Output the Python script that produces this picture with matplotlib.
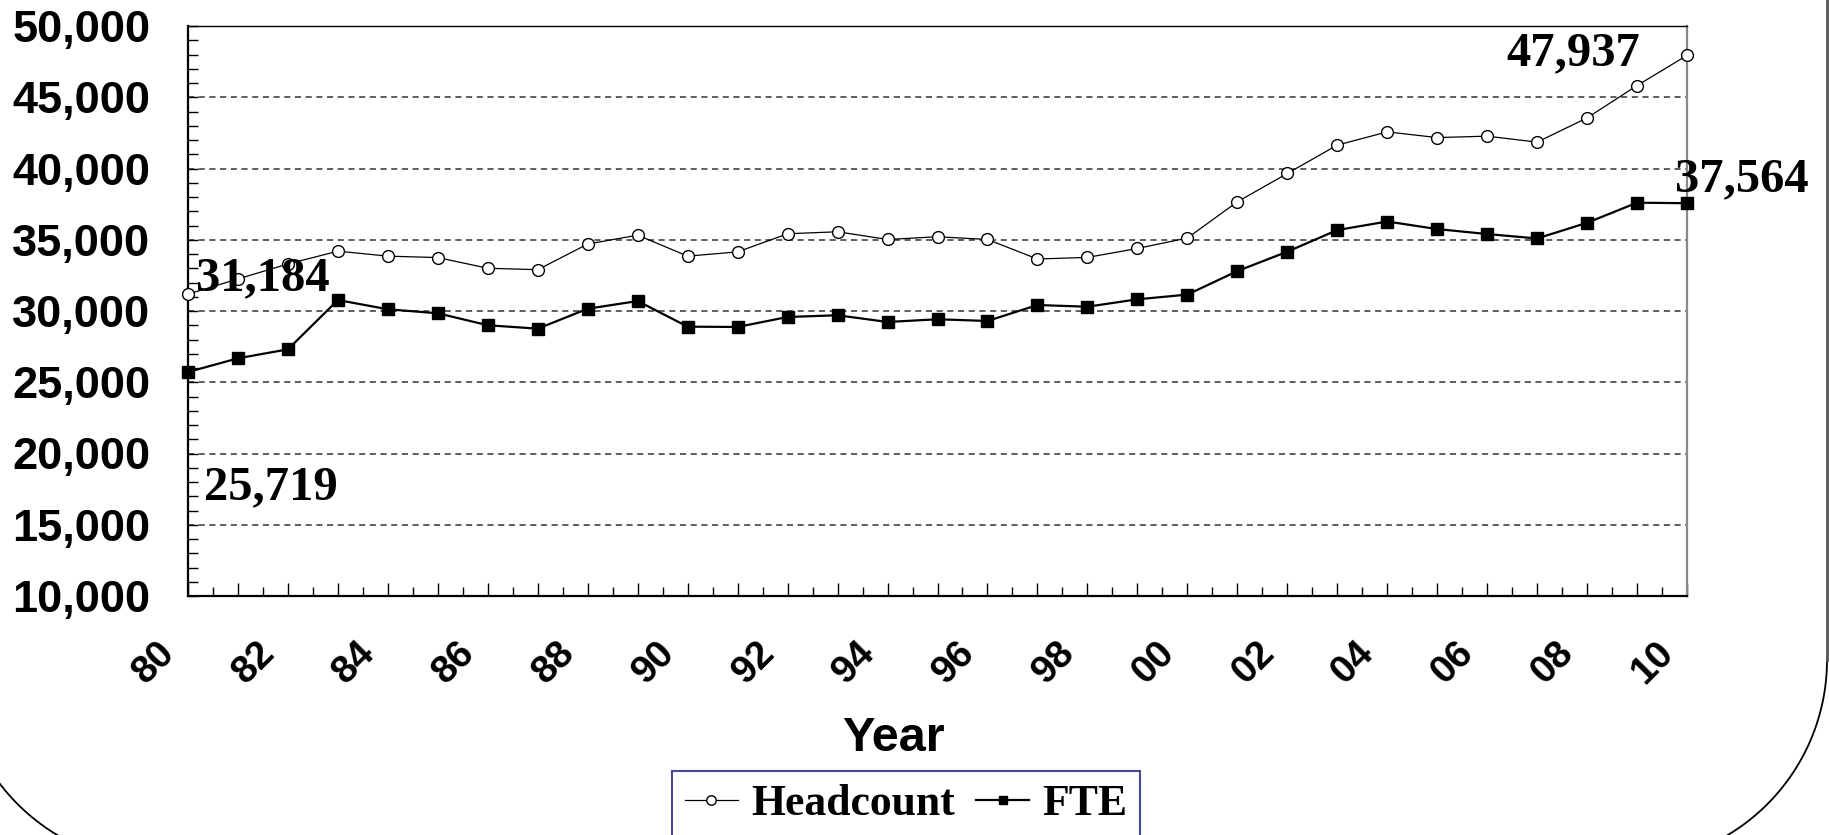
import numpy as np
import matplotlib
matplotlib.use("Agg")
import matplotlib.pyplot as plt
from matplotlib.lines import Line2D
from matplotlib.transforms import ScaledTranslation

# staff numbers by year
years = list(range(1980, 2011))
headcount = [31184, 32250, 33300, 34200, 33850, 33750, 33000, 32900, 34700, 35320,
             33850, 34150, 35420, 35560, 35020, 35210, 35020, 33650, 33760, 34390,
             35120, 37660, 39650, 41640, 42570, 42170, 42270, 41850, 43550, 45820,
             47937]
fte = [25719, 26680, 27310, 30770, 30120, 29840, 29000, 28760, 30160, 30700,
       28900, 28880, 29580, 29700, 29230, 29420, 29300, 30420, 30300, 30820,
       31150, 32800, 34160, 35680, 36280, 35750, 35400, 35090, 36190, 37600,
       37564]
tick_labels = ["%02d" % (y % 100) if y % 2 == 0 else "" for y in years]

W, H = 1829, 835
fig = plt.figure(figsize=(W / 100, H / 100), dpi=100)
ax = fig.add_axes([188 / W, 1 - 596 / H, (1687 - 188) / W, (596 - 26) / H])

sans = "Liberation Sans"
serif = "Liberation Serif"

ax.plot(years, headcount, color="black", lw=0.9, marker="o", ms=8.5,
        mfc="white", mec="black", mew=1.0, clip_on=False, label="Headcount", zorder=3)
ax.plot(years, fte, color="black", lw=1.6, marker="s", ms=8,
        mfc="black", mec="black", clip_on=False, label="FTE", zorder=3)

ax.set_xlim(1980, 2010)
ax.set_ylim(10000, 50000)

ax.set_yticks(range(10000, 50001, 5000))
ax.set_yticklabels(["{:,}".format(v) for v in range(10000, 50001, 5000)],
                   fontfamily=sans, fontweight="bold", fontsize=32.5)
ax.set_yticks(range(10000, 50001, 1000), minor=True)
ax.tick_params(axis="y", which="both", direction="in", length=7, width=1, pad=27)

ax.set_xticks(years)
ax.set_xticklabels(tick_labels, fontfamily=sans, fontweight="bold", fontsize=28,
                   rotation=45, ha="right", va="top")
ax.set_xticks(np.arange(1980.5, 2010, 1.0), minor=True)
ax.tick_params(axis="x", which="major", direction="in", length=9.5, width=1, pad=28)
ax.tick_params(axis="x", which="minor", direction="in", length=6.5, width=1)
shift = ScaledTranslation(-6 / 100, 0, fig.dpi_scale_trans)
for lab in ax.get_xticklabels():
    lab.set_transform(lab.get_transform() + shift)

ax.grid(axis="y", which="major", color="#333333", ls=(0, (4, 3)), lw=1.1)
for s in ["left", "bottom"]:
    ax.spines[s].set_linewidth(1.6)
ax.spines["top"].set_linewidth(1.0)
ax.spines["right"].set_color("#888888")
ax.spines["right"].set_linewidth(1.6)

# end point labels
lab_kw = dict(textcoords="offset pixels", fontfamily=serif, fontweight="bold",
              fontsize=35, va="baseline", annotation_clip=False, zorder=4)
ax.annotate("{:,}".format(headcount[0]), (years[0], headcount[0]), xytext=(8, 4), ha="left", **lab_kw)
ax.annotate("{:,}".format(fte[0]), (years[0], fte[0]), xytext=(16, -127), ha="left", **lab_kw)
ax.annotate("{:,}".format(headcount[-1]), (years[-1], headcount[-1]), xytext=(-47, -10), ha="right", **lab_kw)
ax.annotate("{:,}".format(fte[-1]), (years[-1], fte[-1]), xytext=(-12, 12), ha="left", **lab_kw)

fig.text(893 / W, 1 - 751 / H, "Year", ha="center", va="baseline",
         fontfamily=sans, fontweight="bold", fontsize=35)

leg = ax.legend(loc="upper left", bbox_to_anchor=(672 / W, 1 - 771 / H),
                bbox_transform=fig.transFigure, ncol=2, frameon=True, fancybox=False,
                prop=dict(family=serif, weight="bold", size=31.5), markerscale=0.8,
                handlelength=1.2, handletextpad=0.3, columnspacing=0.5,
                borderpad=0.3, borderaxespad=0)
leg.get_frame().set_edgecolor("#1a1a80")
leg.get_frame().set_linewidth(1.5)

# rounded page border behind the chart
r = 204
t = np.linspace(0, np.pi / 2, 60)
rx = 1623 + r * np.cos(t)
ry = 660 + r * np.sin(t)
lx = 162 - r * np.cos(t)
fig.add_artist(Line2D(rx / W, 1 - ry / H, color="black", lw=1.3))
fig.add_artist(Line2D(lx / W, 1 - ry / H, color="black", lw=1.3))
fig.add_artist(Line2D([1827 / W, 1827 / W], [1.0, 1 - 660 / H], color="#555555", lw=2))

fig.savefig("out.png", dpi=100)
